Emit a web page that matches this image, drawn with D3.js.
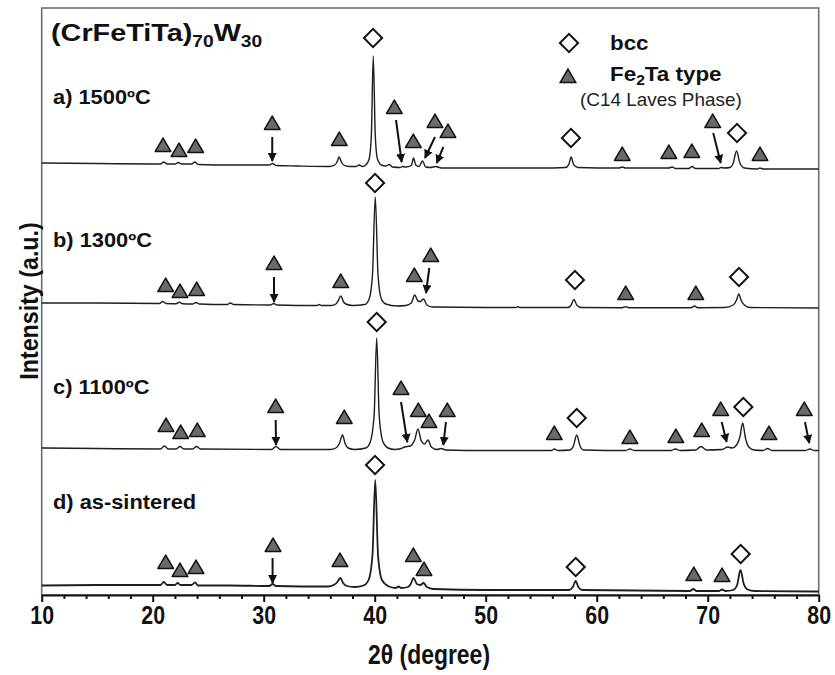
<!DOCTYPE html>
<html>
<head>
<meta charset="utf-8">
<script src="https://cdn.jsdelivr.net/npm/d3@7"></script>
<style>
  body { margin: 0; background: #fff; }
  svg { display: block; font-family: "Liberation Sans", Arial, sans-serif; }
</style>
</head>
<body>
<svg id="chart" width="835" height="675"></svg>
<script>
// XRD patterns, [2theta, intensity a.u.] (stacked offsets included)
const traceA = [[10,432],[15,431.5],[20,431],[20.7,431],[21.0,433],[21.3,431],[22.0,431],[22.3,432.5],[22.6,431],[23.5,431],[23.8,433],[24.1,430.5],[27,430],[30.5,430],[30.8,431.5],[31.1,429.5],[33,429],[35.9,428.5],[36.4,430],[36.6,433],[36.8,438],[37.0,433],[37.2,430],[37.7,428.5],[38.3,428.5],[38.6,430],[38.9,428.5],[39.2,430],[39.5,436],[39.7,460],[39.87,539],[40.05,460],[40.25,436],[40.6,430],[41.0,429],[41.3,430.5],[41.6,428],[42.3,427.5],[42.5,428.5],[42.8,428],[43.3,429.5],[43.5,437],[43.7,430],[44.0,428.5],[44.3,434],[44.6,428],[45.0,427.5],[45.5,428.5],[46,427],[50,427],[55,427],[57.2,427.5],[57.5,431],[57.7,438],[57.9,431],[58.3,427.5],[62,427],[62.3,428],[62.6,427],[66.5,427],[66.8,428],[67.1,426.5],[68.3,426.5],[68.6,428.5],[68.9,426.5],[71.0,426.5],[71.2,427.5],[71.5,427],[72.0,427.5],[72.3,432],[72.6,444],[72.9,432],[73.3,427],[74.5,426],[74.7,427],[75,426],[80,426]];
const traceB = [[10,292],[15,292],[20.6,291.5],[20.9,293.5],[21.2,291.5],[22.1,291.3],[22.4,292.8],[22.7,291.2],[23.6,291],[23.9,292.5],[24.2,291],[26.7,290.5],[27.0,292],[27.3,290.5],[30.6,290],[30.9,291.5],[31.2,290],[34.8,289.5],[35.0,290.5],[35.2,289.5],[36.1,289.5],[36.5,291],[36.7,294],[36.95,299],[37.2,293],[37.4,291],[38.0,289.5],[39.1,290.5],[39.5,296],[39.8,320],[40.05,398],[40.3,320],[40.6,296],[41.0,291],[42.0,289],[42.8,289.5],[43.3,292],[43.6,300],[43.9,294],[44.1,293.5],[44.4,296],[44.7,290],[45.2,288],[50,287.5],[52.7,287.5],[52.9,288.3],[53.1,287.5],[57.4,287.5],[57.7,290],[57.95,295.5],[58.2,290],[58.6,287.5],[62.3,287.3],[62.6,288.3],[62.9,287.3],[68.5,287.3],[68.8,289],[69.1,287.3],[71.5,287.5],[72.3,290],[72.6,295],[72.8,301],[73.0,295],[73.3,290],[73.8,287.5],[80,287]];
const traceC = [[10,147],[15,146.5],[20.7,146],[21.05,149],[21.4,146],[22.1,146],[22.45,148.5],[22.8,146],[23.6,146],[23.95,148.5],[24.3,146],[30.7,145.5],[31.1,148.5],[31.5,145.5],[36.0,145.5],[36.5,147],[36.8,151],[37.1,160],[37.35,151],[37.6,147],[38.2,145.5],[39.2,147],[39.6,153],[39.95,180],[40.18,257],[40.4,180],[40.75,153],[41.2,147],[41.8,145.5],[42.4,146.5],[42.7,148],[43.2,149],[43.6,155],[43.9,166],[44.2,154],[44.5,151],[44.8,155],[45.1,148],[45.6,145.5],[46.0,146.5],[46.4,145],[50,144.5],[55.9,144.5],[56.2,146],[56.5,144.5],[57.6,145],[57.9,149],[58.2,160],[58.5,149],[58.8,145],[62.6,144.5],[63.0,146],[63.4,144.5],[66.7,144.5],[67.1,146],[67.5,144.5],[68.9,145],[69.4,148.5],[69.9,145],[71.3,145.5],[71.8,148],[72.2,147],[72.6,150],[72.9,158],[73.15,172],[73.4,157],[73.7,148],[74.2,145],[75.0,144.5],[75.4,146.5],[75.8,144.5],[78.8,144.5],[79.2,146],[79.6,144.5],[80,144.5]];
const traceD = [[10,9.5],[15,10],[20.7,10],[21.0,13],[21.3,10],[22.0,10],[22.25,12],[22.5,10],[23.5,10],[23.8,12.5],[24.1,9.5],[27,9.5],[30.5,9],[30.8,11],[31.1,9],[35.8,8.5],[36.3,10],[36.6,12.5],[36.9,17],[37.15,12],[37.5,9],[38.2,8],[39.0,9.5],[39.45,15],[39.8,40],[40.05,115],[40.3,40],[40.65,15],[41.2,9],[41.9,7],[42.15,8.5],[42.4,7],[43.0,8],[43.25,11],[43.5,17],[43.8,11],[44.1,10],[44.4,12],[44.7,8],[45.3,6],[50,5],[57.5,5],[57.85,8],[58.1,14],[58.35,8],[58.7,5],[68.4,4],[68.7,6],[69.0,4],[71.0,4],[71.3,5.5],[71.6,4],[72.3,5],[72.65,10],[72.95,25],[73.25,11],[73.6,5.5],[74.2,4],[80,3.5]];

// phase markers: bcc (diamond), Fe2Ta (triangle), arrows [tri2theta, triI, from2theta, fromI, to2theta, toI]
const bccA = [[39.85,557],[57.68,457],[72.64,462]];
const triA = [[20.93,448],[22.37,443],[23.87,447],[36.81,454],[43.48,452],[62.3,439],[66.5,441],[68.57,442],[74.71,439]];
const arrowA = [[30.77,470,30.77,458,30.77,434],[41.77,486,41.92,475,42.43,433],[45.43,472,45.43,458,44.53,437],[46.6,462,46.18,448,45.59,432],[70.45,472,70.5,462,71.17,432]];
const bccB = [[40.03,412],[58.04,315],[72.82,318]];
const triB = [[21.17,308],[22.46,302],[23.96,304],[36.94,312],[43.57,318],[62.61,300],[68.93,300]];
const arrowB = [[30.93,330,30.93,318,30.93,293],[45.05,338,44.92,327,44.62,302]];
const bccC = [[40.18,273],[58.2,177],[73.21,188]];
const triC = [[21.2,168],[22.52,161],[24.02,163],[37.26,176],[43.93,183],[44.89,172],[56.18,160],[62.99,156],[67.13,157],[69.46,163],[75.52,160]];
const arrowC = [[31.08,187,31.08,175,31.11,150],[42.37,205,42.37,193,42.94,153],[46.54,183,46.42,173,46.18,150],[71.17,184,71.26,173,71.71,153],[78.7,184,78.76,173,79.15,152]];
const bccD = [[40.03,130],[58.11,28],[72.97,41]];
const triD = [[21.17,31],[22.46,23],[23.9,26],[36.87,33],[43.48,38],[44.44,24],[68.75,19],[71.29,18]];
const arrowD = [[30.84,48,30.8,37,30.8,12]];

const sampleLabels = ["a) 1500ºC", "b) 1300ºC", "c) 1100ºC", "d) as-sintered"];
const labelLevels = [491, 348, 201, 86];
const xTicks = [10, 20, 30, 40, 50, 60, 70, 80];

const series = [
  { trace: traceA, bcc: bccA, tri: triA, arrows: arrowA },
  { trace: traceB, bcc: bccB, tri: triB, arrows: arrowB },
  { trace: traceC, bcc: bccC, tri: triC, arrows: arrowC },
  { trace: traceD, bcc: bccD, tri: triD, arrows: arrowD }
];

const svg = d3.select("#chart");
const plotLeft = 41.7, plotRight = 818.7, plotTop = 8, plotBottom = 595;

const x = d3.scaleLinear().domain([10, 80]).range([plotLeft, plotRight]);
const y = d3.scaleLinear().domain([0, 590]).range([plotBottom, 5]);

// frame
svg.append("rect")
  .attr("x", plotLeft).attr("y", plotTop)
  .attr("width", plotRight - plotLeft).attr("height", plotBottom - plotTop)
  .attr("fill", "none")
  .attr("stroke", "#6e6e6e")
  .attr("stroke-width", 1.6);

// arrowhead
svg.append("defs").append("marker")
  .attr("id", "head")
  .attr("viewBox", "0 0 10 10")
  .attr("refX", 9).attr("refY", 5)
  .attr("markerUnits", "userSpaceOnUse")
  .attr("markerWidth", 9).attr("markerHeight", 9)
  .attr("orient", "auto")
  .append("path")
  .attr("d", "M0,0L10,5L0,10Z")
  .attr("fill", "#111");

// traces
const line = d3.line()
  .x(d => x(d[0]))
  .y(d => y(d[1]))
  .curve(d3.curveMonotoneX);

svg.selectAll("path.trace")
  .data(series)
  .enter()
  .append("path")
  .attr("class", "trace")
  .attr("d", d => line(d.trace))
  .attr("fill", "none")
  .attr("stroke", "#1e1e1e")
  .attr("stroke-width", (d, i) => i === 3 ? 1.8 : 1.4);

const triSym = d3.symbol(d3.symbolTriangle, 105);
const diaSym = d3.symbol(d3.symbolSquare, 165);

series.forEach(s => {
  svg.selectAll(null)
    .data(s.arrows)
    .enter()
    .append("line")
    .attr("x1", d => x(d[2])).attr("y1", d => y(d[3]))
    .attr("x2", d => x(d[4])).attr("y2", d => y(d[5]))
    .attr("stroke", "#111")
    .attr("stroke-width", 2)
    .attr("marker-end", "url(#head)");

  svg.selectAll(null)
    .data(s.tri.concat(s.arrows.map(a => [a[0], a[1]])))
    .enter()
    .append("path")
    .attr("d", triSym)
    .attr("transform", d => `translate(${x(d[0])},${y(d[1])})`)
    .attr("fill", "#6a6a6a")
    .attr("stroke", "#111")
    .attr("stroke-width", 1.5)
    .attr("stroke-linejoin", "round");

  svg.selectAll(null)
    .data(s.bcc)
    .enter()
    .append("path")
    .attr("d", diaSym)
    .attr("transform", d => `translate(${x(d[0])},${y(d[1])}) rotate(45)`)
    .attr("fill", "#fff")
    .attr("stroke", "#111")
    .attr("stroke-width", 2);
});

// sample labels
svg.selectAll("text.sample")
  .data(sampleLabels)
  .enter()
  .append("text")
  .attr("class", "sample")
  .attr("transform", (d, i) => `translate(53,${y(labelLevels[i])}) scale(1.12,1)`)
  .style("font-size", "19.5px")
  .style("font-weight", "bold")
  .attr("fill", "#111")
  .text(d => d);

// title
const title = svg.append("text")
  .attr("transform", "translate(51,41) scale(1.2,1)")
  .style("font-size", "24px")
  .style("font-weight", "bold")
  .attr("fill", "#111");
title.append("tspan").text("(CrFeTiTa)");
title.append("tspan").attr("dy", 6).style("font-size", "16px").text("70");
title.append("tspan").attr("dy", -6).text("W");
title.append("tspan").attr("dy", 6).style("font-size", "16px").text("30");

// legend
svg.append("path")
  .attr("d", diaSym)
  .attr("transform", "translate(569,43) rotate(45)")
  .attr("fill", "#fff").attr("stroke", "#111").attr("stroke-width", 2);
svg.append("text")
  .attr("transform", "translate(610,50) scale(1.12,1)")
  .style("font-size", "20px").style("font-weight", "bold")
  .attr("fill", "#111")
  .text("bcc");
svg.append("path")
  .attr("d", triSym)
  .attr("transform", "translate(568,78)")
  .attr("fill", "#6a6a6a").attr("stroke", "#111").attr("stroke-width", 1.5);
const fe = svg.append("text")
  .attr("transform", "translate(610,81) scale(1.12,1)")
  .style("font-size", "20px").style("font-weight", "bold")
  .attr("fill", "#111");
fe.append("tspan").text("Fe");
fe.append("tspan").attr("dy", 4).style("font-size", "14px").text("2");
fe.append("tspan").attr("dy", -4).text("Ta type");
svg.append("text")
  .attr("transform", "translate(580,106) scale(1.08,1)")
  .style("font-size", "17.5px")
  .attr("fill", "#222")
  .text("(C14 Laves Phase)");

// x axis
const minorTicks = d3.range(12, 80, 2).filter(v => v % 10 !== 0);
const minorAxis = svg.append("g")
  .attr("transform", `translate(0,${plotBottom})`)
  .call(d3.axisBottom(x).tickValues(minorTicks).tickSize(4).tickSizeOuter(0).tickFormat(""));
minorAxis.select(".domain").remove();
minorAxis.selectAll(".tick line").attr("stroke", "#111").attr("stroke-width", 2);

const xAxis = svg.append("g")
  .attr("transform", `translate(0,${plotBottom})`)
  .call(d3.axisBottom(x).tickValues(xTicks).tickSize(7).tickSizeOuter(0).tickPadding(4));
xAxis.select(".domain").attr("stroke", "#111").attr("stroke-width", 2.2);
xAxis.selectAll(".tick line").attr("stroke", "#111").attr("stroke-width", 2);
xAxis.selectAll(".tick text")
  .attr("fill", "#111")
  .attr("transform", "scale(0.82,1)")
  .style("font-size", "26px")
  .style("font-weight", "bold");

svg.append("text")
  .attr("transform", "translate(429,664) scale(0.85,1)")
  .attr("text-anchor", "middle")
  .style("font-size", "27px").style("font-weight", "bold")
  .attr("fill", "#111")
  .text("2θ (degree)");

svg.append("text")
  .attr("transform", "translate(38,301) rotate(-90) scale(0.93,1)")
  .attr("text-anchor", "middle")
  .style("font-size", "25px").style("font-weight", "bold")
  .attr("fill", "#111")
  .text("Intensity (a.u.)");
</script>
</body>
</html>
